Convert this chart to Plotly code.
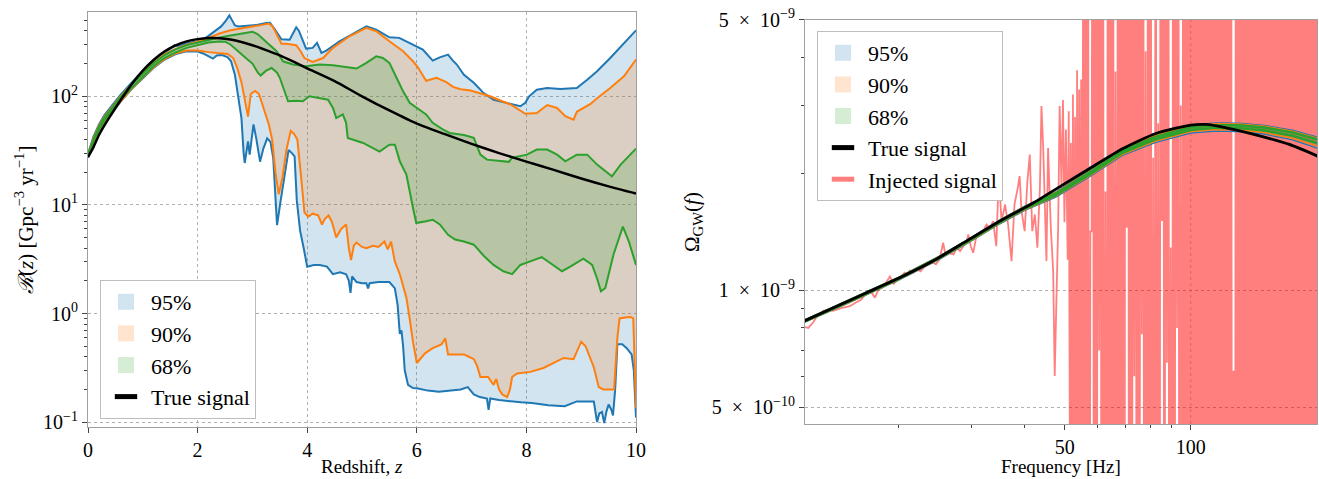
import numpy as np
import plotly.graph_objects as go

FONT = "Liberation Serif"
C0, C1, C2 = "#1f77b4", "#ff7f0e", "#2ca02c"
FILL95, FILL90, FILL68 = "rgba(31,119,180,0.2)", "rgba(255,127,14,0.2)", "rgba(44,160,44,0.2)"
INJ_RED = "rgba(255,0,0,0.5)"

# ---------------------------------------------------------------------------
# Left panel: merger rate R(z) in Gpc^-3 yr^-1, (z, R) pairs
# ---------------------------------------------------------------------------
rate_true = [(0, 27.5), (0.1, 34), (0.2, 44), (0.3, 54), (0.4, 65), (0.6, 93), (0.8, 130),
             (1.0, 172), (1.2, 217), (1.4, 260), (1.6, 294), (1.8, 320), (2.0, 336), (2.2, 344),
             (2.4, 343), (2.6, 333), (2.8, 316), (3.0, 295), (3.25, 266), (3.5, 238), (3.75, 208),
             (4.0, 181), (4.5, 138), (5.0, 100), (5.5, 74), (6.0, 56), (6.5, 45), (7.0, 36.5),
             (7.5, 30), (8.0, 25), (8.5, 21), (9.0, 17.5), (9.5, 14.8), (10.0, 12.7)]

rate95_upper = [(0, 29.5), (0.1, 42.5), (0.2, 55), (0.3, 67), (0.4, 78), (0.6, 104), (0.8, 134),
                (1.0, 170), (1.2, 212), (1.4, 252), (1.5, 272), (1.58, 296), (1.64, 290), (1.7, 296),
                (1.8, 308), (2.0, 322), (2.1, 335), (2.2, 360), (2.3, 395), (2.43, 440), (2.52, 500),
                (2.58, 555), (2.63, 500), (2.68, 450), (2.75, 440), (2.9, 445), (3.0, 448), (3.1, 455),
                (3.25, 472), (3.32, 476), (3.4, 420), (3.53, 335), (3.68, 332), (3.74, 380), (3.8, 432),
                (3.85, 400), (3.89, 357), (3.98, 275), (4.1, 279), (4.18, 310), (4.26, 251), (4.35, 263),
                (4.59, 321), (4.84, 375), (5.08, 441), (5.26, 411), (5.5, 349), (5.68, 345), (5.93, 299),
                (6.11, 269), (6.29, 213), (6.42, 228), (6.57, 242), (6.65, 215), (6.73, 196), (6.86, 158),
                (7.04, 133), (7.22, 107), (7.4, 93), (7.65, 87), (7.89, 81), (7.98, 87), (8.05, 100),
                (8.19, 115), (8.38, 119), (8.62, 117), (8.92, 119), (9.11, 142), (9.29, 170), (9.53, 225),
                (9.78, 310), (10.0, 405)]

rate95_lower = [(0, 27.3), (0.1, 37.5), (0.2, 48), (0.3, 58), (0.4, 67.5), (0.6, 90), (0.8, 117),
                (1.0, 147), (1.2, 183), (1.4, 218), (1.6, 245), (1.8, 260), (2.0, 258), (2.1, 248),
                (2.2, 232), (2.28, 222), (2.35, 238), (2.45, 240), (2.55, 228), (2.61, 210), (2.68, 158),
                (2.74, 103), (2.8, 63), (2.84, 30), (2.86, 24.3), (2.92, 38.5), (2.95, 29), (3.02, 55),
                (3.07, 41), (3.14, 25), (3.2, 33), (3.27, 41), (3.33, 38), (3.38, 27), (3.45, 6.5),
                (3.51, 10.5), (3.58, 17), (3.66, 32), (3.72, 30), (3.77, 28), (3.81, 11), (3.87, 5.8),
                (3.94, 3.9), (4.0, 2.7), (4.12, 2.8), (4.23, 2.8), (4.36, 2.7), (4.47, 2.3), (4.6, 2.4),
                (4.71, 2.3), (4.76, 2.0), (4.79, 1.55), (4.82, 2.2), (4.9, 1.95), (5.0, 1.9), (5.08, 1.9),
                (5.11, 1.7), (5.14, 1.9), (5.3, 1.95), (5.5, 1.95), (5.6, 1.7), (5.65, 1.2), (5.69, 0.65),
                (5.72, 0.7), (5.75, 0.5), (5.78, 0.3), (5.84, 0.22), (5.93, 0.206), (6.0, 0.205),
                (6.2, 0.195), (6.4, 0.19), (6.6, 0.195), (6.8, 0.2), (6.93, 0.21), (7.04, 0.18),
                (7.15, 0.17), (7.28, 0.165), (7.31, 0.13), (7.34, 0.165), (7.5, 0.16), (7.7, 0.155),
                (7.9, 0.152), (8.1, 0.15), (8.4, 0.143), (8.7, 0.14), (8.92, 0.155), (9.1, 0.155),
                (9.23, 0.155), (9.29, 0.1), (9.33, 0.12), (9.38, 0.124), (9.42, 0.098), (9.46, 0.125),
                (9.5, 0.145), (9.55, 0.13), (9.58, 0.115), (9.62, 0.2), (9.66, 0.52), (9.75, 0.52),
                (9.83, 0.48), (9.92, 0.42), (9.96, 0.3), (10.0, 0.11)]

rate90_upper = [(0, 29), (0.1, 41), (0.2, 53.5), (0.3, 65), (0.4, 75.5), (0.6, 101), (0.8, 130),
                (1.0, 165), (1.2, 206), (1.4, 244), (1.6, 273), (1.8, 299), (2.0, 318), (2.2, 345),
                (2.4, 378), (2.6, 405), (2.8, 425), (3.0, 440), (3.15, 452), (3.3, 468), (3.37, 440),
                (3.45, 360), (3.53, 305), (3.62, 304), (3.72, 300), (3.8, 295), (3.88, 260), (3.95, 225),
                (4.1, 207), (4.29, 225), (4.47, 279), (4.77, 357), (5.08, 426), (5.26, 397), (5.5, 321),
                (5.75, 260), (5.93, 210), (6.02, 185), (6.17, 139), (6.36, 148), (6.54, 135), (6.66, 122),
                (6.8, 116), (6.98, 113), (7.34, 100), (7.71, 84), (7.98, 69), (8.19, 70), (8.38, 83),
                (8.56, 78), (8.71, 65.5), (8.86, 61), (8.92, 72), (9.17, 85), (9.29, 96), (9.53, 119),
                (9.78, 153), (10.0, 218)]

rate90_lower = [(0, 27.8), (0.1, 38), (0.2, 48.5), (0.3, 59), (0.4, 68.5), (0.6, 91), (0.8, 118),
                (1.0, 149), (1.2, 186), (1.4, 221), (1.6, 249), (1.8, 264), (2.0, 264), (2.2, 255),
                (2.4, 250), (2.55, 245), (2.65, 225), (2.72, 185), (2.8, 135), (2.86, 95), (2.92, 65),
                (2.97, 105), (3.05, 112), (3.12, 105), (3.2, 80), (3.3, 55), (3.36, 40), (3.42, 20),
                (3.48, 12.5), (3.55, 18), (3.62, 32), (3.7, 48), (3.76, 45), (3.82, 40), (3.88, 20),
                (3.95, 8.5), (4.02, 7.8), (4.1, 8.3), (4.2, 8.0), (4.27, 6.6), (4.32, 7.4), (4.39, 8.0),
                (4.45, 7.0), (4.53, 5.0), (4.62, 6.0), (4.71, 6.6), (4.76, 4.0), (4.8, 3.1), (4.85, 4.2),
                (4.9, 4.5), (5.0, 4.1), (5.08, 4.0), (5.2, 4.2), (5.3, 4.1), (5.41, 4.6), (5.47, 3.9),
                (5.53, 4.6), (5.6, 3.0), (5.69, 2.3), (5.75, 1.8), (5.81, 1.4), (5.87, 0.9), (5.93, 0.55),
                (6.0, 0.35), (6.06, 0.38), (6.15, 0.43), (6.29, 0.48), (6.45, 0.52), (6.52, 0.59),
                (6.57, 0.42), (6.72, 0.42), (6.86, 0.42), (6.95, 0.4), (7.04, 0.38), (7.1, 0.33),
                (7.16, 0.26), (7.3, 0.26), (7.4, 0.22), (7.45, 0.25), (7.5, 0.2), (7.56, 0.18),
                (7.65, 0.17), (7.7, 0.2), (7.74, 0.26), (7.83, 0.28), (8.07, 0.29), (8.31, 0.315),
                (8.5, 0.35), (8.68, 0.39), (8.86, 0.38), (9.0, 0.55), (9.08, 0.5), (9.23, 0.32),
                (9.32, 0.21), (9.4, 0.2), (9.5, 0.2), (9.6, 0.2), (9.66, 0.6), (9.7, 0.9), (9.8, 0.92),
                (9.9, 0.93), (9.95, 0.9), (9.98, 0.3), (10.0, 0.135)]

rate68_upper = [(0, 28.8), (0.1, 40.2), (0.2, 52.5), (0.3, 64), (0.4, 74), (0.6, 99), (0.8, 128),
                (1.0, 162), (1.2, 202), (1.4, 240), (1.6, 270), (1.8, 296), (2.0, 314), (2.2, 330),
                (2.4, 348), (2.6, 362), (2.8, 378), (3.0, 393), (3.1, 372), (3.25, 320), (3.35, 285),
                (3.44, 260), (3.56, 210), (3.74, 196), (3.98, 189), (4.23, 196), (4.47, 193), (4.9, 180),
                (5.08, 203), (5.26, 233), (5.38, 225), (5.5, 203), (5.63, 148), (5.75, 111), (5.87, 87),
                (6.05, 75), (6.17, 68), (6.29, 57), (6.48, 49.3), (6.6, 46), (6.86, 44), (7.04, 41.4),
                (7.16, 29), (7.28, 26.1), (7.52, 25.2), (7.68, 24.9), (7.74, 27.2), (8.01, 29),
                (8.19, 32.3), (8.38, 32.3), (8.56, 29), (8.71, 25.2), (8.92, 29), (9.11, 29), (9.29, 23.5),
                (9.47, 19.7), (9.56, 18.3), (9.72, 23.5), (9.87, 28), (10.0, 33)]

rate68_lower = [(0, 28.2), (0.1, 38.8), (0.2, 49.5), (0.3, 60), (0.4, 70), (0.6, 93), (0.8, 120),
                (1.0, 152), (1.2, 190), (1.4, 226), (1.6, 254), (1.8, 279), (2.0, 296), (2.2, 312),
                (2.4, 320), (2.5, 318), (2.6, 300), (2.7, 270), (2.8, 240), (2.9, 220), (3.0, 200),
                (3.1, 165), (3.15, 155), (3.25, 172), (3.35, 182), (3.45, 165), (3.5, 148), (3.56, 119),
                (3.65, 90), (3.8, 91), (3.92, 90), (4.04, 100), (4.23, 96), (4.38, 93), (4.47, 78),
                (4.53, 63), (4.65, 68), (4.71, 57), (4.74, 41.4), (4.84, 40), (5.02, 37.2), (5.14, 34.6),
                (5.32, 31), (5.5, 35.8), (5.6, 35.8), (5.69, 25.2), (5.81, 19), (5.93, 9.4), (5.99, 6.8),
                (6.17, 7.06), (6.29, 7.3), (6.42, 6.6), (6.57, 5.3), (6.7, 4.8), (6.86, 4.6), (7.04, 4.3),
                (7.22, 3.4), (7.4, 2.8), (7.58, 2.45), (7.74, 2.3), (7.89, 2.8), (8.13, 3.1), (8.28, 3.3),
                (8.44, 2.9), (8.65, 2.45), (8.8, 2.7), (9.04, 3.2), (9.2, 2.8), (9.29, 2.1), (9.36, 1.6),
                (9.44, 1.72), (9.59, 3.5), (9.76, 6.3), (9.87, 4.6), (10.0, 2.8)]

# ---------------------------------------------------------------------------
# Right panel: Omega_GW(f)
# ---------------------------------------------------------------------------
omega_true = [(11.9, 8.33e-10), (14, 9.02e-10), (16.8, 9.86e-10), (20.2, 1.079e-9), (24.2, 1.19e-9),
              (29.1, 1.34e-9), (35, 1.51e-9), (42, 1.68e-9), (49, 1.86e-9), (57.2, 2.06e-9),
              (68.7, 2.32e-9), (82.5, 2.54e-9), (100, 2.67e-9), (108.6, 2.68e-9), (123, 2.62e-9),
              (143, 2.52e-9), (172, 2.38e-9), (201, 2.22e-9)]

freq_band = [11.9, 15, 20, 25, 30, 35, 40, 47.6, 57.2, 68.7, 82.5, 100, 115, 130, 150, 175, 201]
omega95_upper = [8.38e-10, 9.37e-10, 1.081e-9, 1.225e-9, 1.372e-9, 1.52e-9, 1.648e-9, 1.795e-9, 2.035e-9,
                 2.33e-9, 2.53e-9, 2.675e-9, 2.705e-9, 2.70e-9, 2.665e-9, 2.59e-9, 2.485e-9]
omega90_upper = [8.36e-10, 9.35e-10, 1.078e-9, 1.221e-9, 1.368e-9, 1.515e-9, 1.642e-9, 1.788e-9, 2.025e-9,
                 2.315e-9, 2.515e-9, 2.66e-9, 2.69e-9, 2.685e-9, 2.65e-9, 2.575e-9, 2.47e-9]
omega68_upper = [8.34e-10, 9.32e-10, 1.075e-9, 1.217e-9, 1.363e-9, 1.509e-9, 1.635e-9, 1.778e-9, 2.012e-9,
                 2.295e-9, 2.492e-9, 2.635e-9, 2.668e-9, 2.665e-9, 2.63e-9, 2.555e-9, 2.45e-9]
omega68_lower = [8.30e-10, 9.27e-10, 1.069e-9, 1.210e-9, 1.355e-9, 1.499e-9, 1.622e-9, 1.762e-9, 1.988e-9,
                 2.265e-9, 2.455e-9, 2.595e-9, 2.628e-9, 2.625e-9, 2.585e-9, 2.505e-9, 2.395e-9]
omega90_lower = [8.28e-10, 9.24e-10, 1.065e-9, 1.205e-9, 1.349e-9, 1.492e-9, 1.613e-9, 1.751e-9, 1.974e-9,
                 2.245e-9, 2.43e-9, 2.57e-9, 2.6e-9, 2.595e-9, 2.555e-9, 2.47e-9, 2.355e-9]
omega95_lower = [8.26e-10, 9.21e-10, 1.061e-9, 1.2e-9, 1.343e-9, 1.485e-9, 1.605e-9, 1.741e-9, 1.962e-9,
                 2.23e-9, 2.41e-9, 2.545e-9, 2.575e-9, 2.57e-9, 2.53e-9, 2.445e-9, 2.325e-9]

# injected (noisy) spectrum below ~55 Hz, turning points of the trace
injected_low = [(11.9, 8.05e-10), (12.19, 8.0e-10), (12.5, 8.25e-10), (12.77, 8.55e-10), (13.24, 8.85e-10),
                (13.6, 8.9e-10), (13.97, 8.85e-10), (14.6, 9.0e-10), (15.32, 9.1e-10), (15.8, 9.29e-10),
                (16.3, 9.45e-10), (16.8, 9.86e-10), (17.2, 9.95e-10), (17.58, 9.57e-10), (17.9, 1.0e-9),
                (18.4, 1.02e-9), (18.8, 1.057e-9), (19.1, 1.085e-9), (19.5, 1.04e-9), (19.8, 1.057e-9),
                (20.2, 1.078e-9), (20.7, 1.11e-9), (21.0, 1.095e-9), (21.3, 1.125e-9), (21.7, 1.11e-9),
                (22.1, 1.135e-9), (22.6, 1.12e-9), (23.36, 1.167e-9), (23.8, 1.185e-9), (24.2, 1.18e-9),
                (24.6, 1.167e-9), (25.1, 1.202e-9), (25.6, 1.327e-9), (25.9, 1.24e-9), (26.3, 1.26e-9),
                (26.6, 1.245e-9), (27.1, 1.238e-9), (27.6, 1.288e-9), (28.1, 1.263e-9), (28.6, 1.30e-9),
                (29.1, 1.327e-9), (29.4, 1.394e-9), (29.8, 1.30e-9), (30.2, 1.25e-9), (30.8, 1.394e-9),
                (31.3, 1.40e-9), (31.9, 1.422e-9), (32.5, 1.479e-9), (33.1, 1.45e-9), (33.7, 1.509e-9),
                (34.3, 1.30e-9), (34.6, 1.699e-9), (35.0, 1.768e-9), (35.3, 1.509e-9), (36.0, 1.665e-9),
                (36.6, 1.479e-9), (37.3, 1.19e-9), (37.9, 1.665e-9), (38.6, 1.839e-9), (39.0, 1.971e-9),
                (39.4, 1.6e-9), (40.1, 1.422e-9), (40.7, 1.913e-9), (41.24, 2.24e-9), (41.8, 1.422e-9),
                (42.4, 1.57e-9), (43.0, 1.288e-9), (43.6, 1.839e-9), (43.97, 2.99e-9), (44.4, 2.33e-9),
                (45.2, 1.19e-9), (45.6, 2.33e-9), (46.3, 1.45e-9), (46.9, 1.121e-9), (47.3, 6.01e-10),
                (47.8, 9.96e-10), (48.2, 1.45e-9), (48.6, 2.99e-9), (49.1, 1.839e-9), (49.5, 3.1e-9),
                (49.9, 1.5e-9), (50.3, 2.6e-9), (50.8, 1.2e-9), (51.1, 2.9e-9), (51.4, 4e-10),
                (51.7, 2.4e-9), (52.0, 3e-10), (52.3, 3.2e-9), (52.6, 2e-10), (52.9, 2.8e-9),
                (53.2, 2e-10), (53.5, 3.7e-9), (53.8, 1.5e-10), (54.1, 3.3e-9), (54.4, 1e-10),
                (54.7, 3.5e-9), (55.0, 1e-10), (55.3, 1e-8)]

# above ~55.6 Hz the injected spectrum swings past both ends of the axis on every sample
SAT_BAND_HZ = (55.6, 201.0)
SAT_SAMPLES = 187
OFF_SCALE_LOW, OFF_SCALE_HIGH = 1e-11, 1e-7
# samples inside the saturated band whose swing stays on the axis: (Hz, value)
injected_peaks_on_axis = [(57.2, 1.42e-9), (62.7, 1.8e-9), (65.9, 3.67e-9), (77.8, 4.14e-9), (81.0, 2.2e-9),
                          (84.0, 2.7e-9), (90.1, 1.29e-9), (95.2, 3.0e-9), (125.8, 6.2e-10)]
injected_troughs_on_axis = [(58.2, 1.42e-9), (60.5, 7.0e-10), (70.2, 1.45e-9), (73.0, 6.0e-10),
                            (76.0, 7.7e-10), (84.8, 1.51e-9), (88.0, 6.5e-10), (93.0, 8.0e-10)]

sat_f = np.geomspace(SAT_BAND_HZ[0], SAT_BAND_HZ[1], SAT_SAMPLES)
sat_idx = np.arange(SAT_SAMPLES)
sat_omega = np.where(sat_idx % 2 == 0, OFF_SCALE_LOW, OFF_SCALE_HIGH)
for pts, parity in ((injected_peaks_on_axis, 1), (injected_troughs_on_axis, 0)):
    cand = sat_idx[sat_idx % 2 == parity]
    for f0, val in pts:
        sat_omega[cand[np.argmin(np.abs(np.log(sat_f[cand] / f0)))]] = val

inj_f = [p[0] for p in injected_low] + list(sat_f)
inj_omega = [p[1] for p in injected_low] + list(sat_omega)

# ---------------------------------------------------------------------------
fig = go.Figure()


def add_band(upper, lower, fillcolor, color, width, xa, ya):
    xu, yu = [p[0] for p in upper], [p[1] for p in upper]
    xl, yl = [p[0] for p in lower], [p[1] for p in lower]
    fig.add_trace(go.Scatter(x=xu + xl[::-1], y=yu + yl[::-1], fill="toself", fillcolor=fillcolor,
                             mode="lines", line=dict(width=0), hoverinfo="skip", showlegend=False,
                             xaxis=xa, yaxis=ya))
    for xs, ys in ((xu, yu), (xl, yl)):
        fig.add_trace(go.Scatter(x=xs, y=ys, mode="lines", line=dict(color=color, width=width),
                                 showlegend=False, xaxis=xa, yaxis=ya))


# left panel
add_band(rate95_upper, rate95_lower, FILL95, C0, 2, "x", "y")
add_band(rate90_upper, rate90_lower, FILL90, C1, 2, "x", "y")
add_band(rate68_upper, rate68_lower, FILL68, C2, 2, "x", "y")
fig.add_trace(go.Scatter(x=[p[0] for p in rate_true], y=[p[1] for p in rate_true], mode="lines",
                         line=dict(color="black", width=2.5, shape="spline", smoothing=0.6),
                         showlegend=False, xaxis="x", yaxis="y"))

# right panel
Y2_RANGE = (4.52e-10, 5e-9)
fig.add_trace(go.Scatter(x=[100, 100], y=list(Y2_RANGE), mode="lines",
                         line=dict(color="#b0b0b0", width=0.8, dash="dot"),
                         hoverinfo="skip", showlegend=False, xaxis="x2", yaxis="y2"))
fig.add_trace(go.Scatter(x=inj_f, y=inj_omega, mode="lines", line=dict(color=INJ_RED, width=1.8, simplify=False),
                         showlegend=False, xaxis="x2", yaxis="y2"))
for up, lo, fc, c, w in ((omega95_upper, omega95_lower, FILL95, C0, 1.3),
                         (omega90_upper, omega90_lower, FILL90, C1, 1.6),
                         (omega68_upper, omega68_lower, FILL68, C2, 2.6)):
    add_band(list(zip(freq_band, up)), list(zip(freq_band, lo)), fc, c, w, "x2", "y2")
fig.add_trace(go.Scatter(x=[p[0] for p in omega_true], y=[p[1] for p in omega_true], mode="lines",
                         line=dict(color="black", width=2.8, shape="spline", smoothing=0.6),
                         showlegend=False, xaxis="x2", yaxis="y2"))

# legend entries
def legend_patch(name, color, legend, rank):
    fig.add_trace(go.Scatter(x=[None], y=[None], mode="markers", name=name, legend=legend, legendrank=rank,
                             marker=dict(symbol="square", size=16, color=color, line=dict(width=0))))


def legend_bar(name, color, legend, rank):
    fig.add_trace(go.Scatter(x=[None], y=[None], mode="markers", name=name, legend=legend, legendrank=rank,
                             marker=dict(symbol="line-ew", size=16, color=color,
                                         line=dict(width=6, color=color))))


for lg in ("legend", "legend2"):
    legend_patch("95%", FILL95, lg, 1)
    legend_patch("90%", FILL90, lg, 2)
    legend_patch("68%", FILL68, lg, 3)
    legend_bar("True signal", "black", lg, 4)
legend_bar("Injected signal", INJ_RED, "legend2", 5)

# axes
W, H = 1319, 479
spine = dict(showline=True, mirror=True, linecolor="#a0a0a0", linewidth=1, zeroline=False,
             ticks="outside", tickcolor="#444", tickwidth=1, ticklen=5,
             tickfont=dict(family=FONT, size=20, color="black"), automargin=False)
grid = dict(showgrid=True, gridcolor="#b0b0b0", gridwidth=0.8, griddash="dot")

y_minor_left = [k * 10.0 ** n for n in (-1, 0, 1, 2) for k in range(2, 10) if k * 10.0 ** n < 590]
EN = "\u2002"

legend_style = dict(xanchor="left", yanchor="top", bgcolor="white", bordercolor="#bdbdbd", borderwidth=1,
                    font=dict(family=FONT, size=22, color="black"), itemsizing="trace", itemwidth=40)

fig.update_layout(
    width=W, height=H, margin=dict(l=0, r=0, t=0, b=0),
    paper_bgcolor="white", plot_bgcolor="white",
    font=dict(family=FONT, size=20, color="black"),
    xaxis=dict(domain=[88 / W, 636 / W], range=[0, 10], tickvals=[0, 2, 4, 6, 8, 10], anchor="y",
               **grid, **spine),
    yaxis=dict(domain=[52 / H, 467 / H], type="log", range=[-1.045, 2.776], anchor="x",
               tickvals=[0.1, 1, 10, 100],
               ticktext=["10<sup>−1</sup>", "10<sup>0</sup>", "10<sup>1</sup>", "10<sup>2</sup>"],
               minor=dict(tickmode="array", tickvals=y_minor_left, ticks="outside", ticklen=3,
                          tickcolor="#444", showgrid=False),
               **grid, **spine),
    xaxis2=dict(domain=[805 / W, 1317 / W], type="log", range=[np.log10(11.97), np.log10(200.3)],
                anchor="y2", tickvals=[50, 100], ticktext=["50", "100"], showgrid=False,
                minor=dict(tickmode="array", tickvals=[20, 30, 40, 60, 70, 80, 90], ticks="outside",
                           ticklen=3, tickcolor="#444", showgrid=False),
                **spine),
    yaxis2=dict(domain=[55 / H, 459.5 / H], type="log", range=[np.log10(Y2_RANGE[0]), np.log10(Y2_RANGE[1])],
                anchor="x2", tickvals=[5e-10, 1e-9, 5e-9],
                ticktext=[f"5{EN}×{EN}10<sup>−10</sup>", f"1{EN}×{EN}10<sup>−9</sup>",
                          f"5{EN}×{EN}10<sup>−9</sup>"],
                minor=dict(tickmode="array", tickvals=[6e-10, 7e-10, 8e-10, 9e-10, 2e-9, 3e-9, 4e-9],
                           ticks="outside", ticklen=3, tickcolor="#444", showgrid=False),
                **grid, **spine),
    legend=dict(x=100 / W, y=1 - 280 / H, **legend_style),
    legend2=dict(x=817 / W, y=1 - 31 / H, **legend_style),
    annotations=[
        dict(text="Redshift, <i>z</i>", x=362 / W, y=1 - 466 / H, xref="paper", yref="paper",
             showarrow=False, xanchor="center", yanchor="middle", font=dict(family=FONT, size=19)),
        dict(text="Frequency [Hz]", x=1061 / W, y=1 - 466 / H, xref="paper", yref="paper",
             showarrow=False, xanchor="center", yanchor="middle", font=dict(family=FONT, size=19)),
        dict(text="<i>ℛ</i>(<i>z</i>) [Gpc<sup>−3</sup> yr<sup>−1</sup>]", x=24 / W, y=1 - 220 / H,
             xref="paper", yref="paper", showarrow=False, textangle=-90, xanchor="center",
             yanchor="middle", font=dict(family=FONT, size=21)),
        dict(text="Ω<sub>GW</sub>(<i>f</i>)", x=693 / W, y=1 - 222 / H, xref="paper", yref="paper",
             showarrow=False, textangle=-90, xanchor="center", yanchor="middle",
             font=dict(family=FONT, size=21)),
    ],
)

fig.write_html("out.html")
